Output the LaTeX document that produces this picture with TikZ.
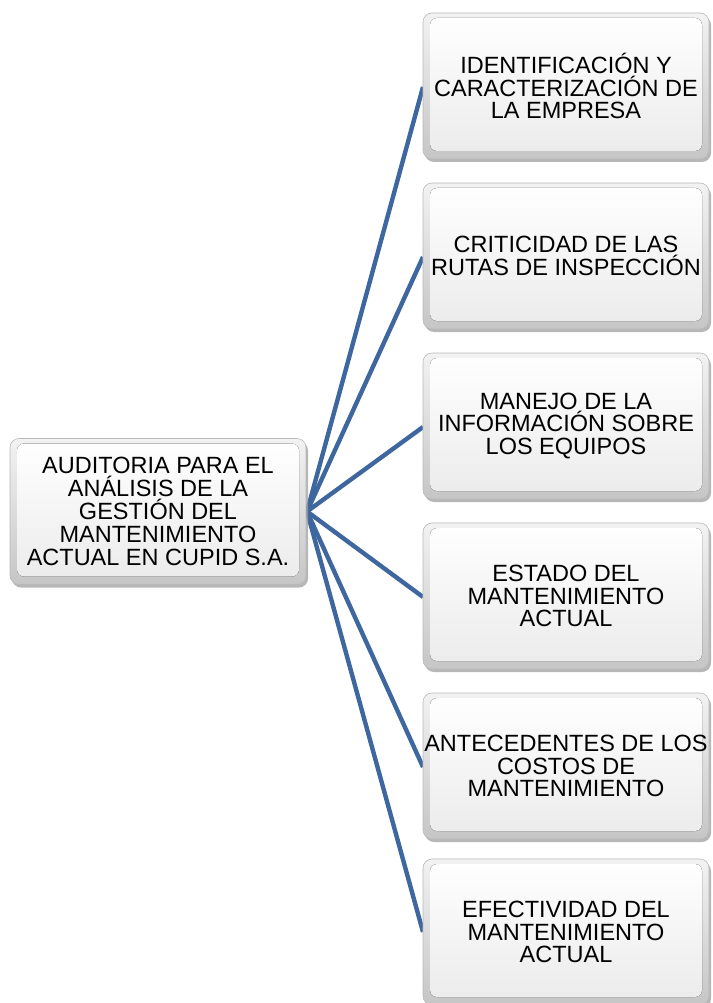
\documentclass[tikz,border=0pt]{standalone}
\usepackage{fontspec}
\setmainfont{Liberation Sans}
\usetikzlibrary{shadows}
\definecolor{linkblue}{HTML}{3D679E}
\begin{document}
\begin{tikzpicture}[x=1pt,y=-1pt,
  btn/.style={rounded corners=9pt, top color=gray!10, bottom color=gray!45,
    draw=gray!55, line width=0.6pt,
    drop shadow={shadow xshift=2pt, shadow yshift=-3pt, fill=gray!75, opacity=0.75},
    path picture={\fill[rounded corners=7pt, top color=white, bottom color=gray!16]
      ([xshift=7pt,yshift=-5pt]path picture bounding box.north west) rectangle
      ([xshift=-7pt,yshift=8pt]path picture bounding box.south east);},
    align=center, font=\fontsize{23.5}{22.8}\selectfont, inner sep=0pt},
  rbox/.style={btn, minimum width=286pt, minimum height=146pt},
  lbox/.style={btn, minimum width=296pt, minimum height=146pt},
  link/.style={draw=linkblue, line width=4.4pt}]
\useasboundingbox (0,0) rectangle (712,1003);
\coordinate (root) at (307,511.5);
\coordinate (t1) at (423,87);
\coordinate (t2) at (423,257);
\coordinate (t3) at (423,427);
\coordinate (t4) at (423,597);
\coordinate (t5) at (423,767);
\coordinate (t6) at (423,932);
\foreach \i in {1,...,6} \draw[link] (root) -- (t\i);
\node[lbox] (L) at (158,511.5) {AUDITORIA PARA EL\\ ANÁLISIS DE LA\\ GESTIÓN DEL\\ MANTENIMIENTO\\ ACTUAL EN CUPID S.A.};
\node[rbox] (R1) at (566,86) {IDENTIFICACIÓN Y\\ CARACTERIZACIÓN DE\\ LA EMPRESA};
\node[rbox] (R2) at (566,256) {CRITICIDAD DE LAS\\ RUTAS DE INSPECCIÓN};
\node[rbox] (R3) at (566,426) {MANEJO DE LA\\ INFORMACIÓN SOBRE\\ LOS EQUIPOS};
\node[rbox] (R4) at (566,596) {ESTADO DEL\\ MANTENIMIENTO\\ ACTUAL};
\node[rbox] (R5) at (566,766) {ANTECEDENTES DE LOS\\ COSTOS DE\\ MANTENIMIENTO};
\node[rbox] (R6) at (566,932) {EFECTIVIDAD DEL\\ MANTENIMIENTO\\ ACTUAL};
\end{tikzpicture}
\end{document}
